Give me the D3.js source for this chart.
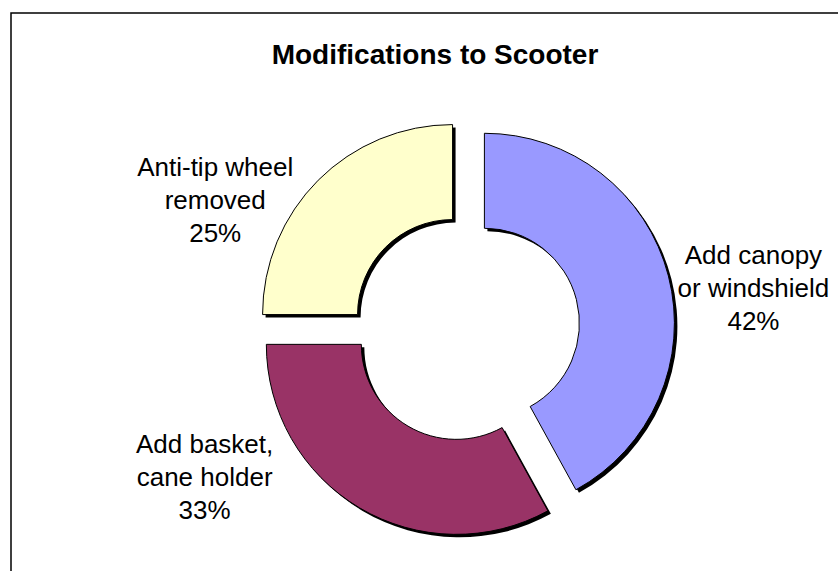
<!DOCTYPE html>
<html>
<head>
<meta charset="utf-8">
<script src="https://cdn.jsdelivr.net/npm/d3@7"></script>
<style>
  html, body { margin: 0; padding: 0; background: #fff; }
  svg { display: block; font-family: Arial, "Liberation Sans", sans-serif; }
</style>
</head>
<body>
<svg id="chart" width="838" height="571"></svg>
<script>
// data
var categories = ['Add canopy or windshield', 'Add basket, cane holder', 'Anti-tip wheel removed'];
var labelLines = [['Add canopy', 'or windshield'], ['Add basket,', 'cane holder'], ['Anti-tip wheel', 'removed']];
var values = [42, 33, 25];
var colors = ['#9999FF', '#993366', '#FFFFCC'];

// layout
var cx = 466, cy = 328;
var outerR = 190, innerR = 95;
var explode = 19;
// label offsets from the slice's outer midpoint (middle line baseline)
var labelOffsets = [[85, 21], [-155, -22], [-103, 29]];

var svg = d3.select('#chart');

// chart frame, runs past the right and bottom edges
svg.append('rect')
  .attr('x', 11).attr('y', 13)
  .attr('width', 900).attr('height', 700)
  .attr('fill', 'none')
  .attr('stroke', '#000')
  .attr('stroke-width', 1.5);

svg.append('text')
  .attr('x', 435).attr('y', 64)
  .attr('text-anchor', 'middle')
  .attr('font-size', 28)
  .attr('font-weight', 'bold')
  .text('Modifications to Scooter');

var pie = d3.pie().sort(null).value(function (d) { return d; });
var arcs = pie(values);

var arc = d3.arc().innerRadius(innerR).outerRadius(outerR);

function offsetFor(d) {
  var mid = (d.startAngle + d.endAngle) / 2;
  return [Math.sin(mid) * explode, -Math.cos(mid) * explode];
}

var g = svg.append('g').attr('transform', 'translate(' + cx + ',' + cy + ')');

// shadows first so they sit under every slice
g.selectAll('path.shadow')
  .data(arcs)
  .enter().append('path')
  .attr('class', 'shadow')
  .attr('d', arc)
  .attr('fill', '#000')
  .attr('transform', function (d) {
    var o = offsetFor(d);
    return 'translate(' + (o[0] + 3) + ',' + (o[1] + 3) + ')';
  });

g.selectAll('path.slice')
  .data(arcs)
  .enter().append('path')
  .attr('class', 'slice')
  .attr('d', arc)
  .attr('fill', function (d, i) { return colors[i]; })
  .attr('stroke', '#000')
  .attr('stroke-width', 1)
  .attr('transform', function (d) {
    var o = offsetFor(d);
    return 'translate(' + o[0] + ',' + o[1] + ')';
  });

// labels
var labels = g.selectAll('text.label')
  .data(arcs)
  .enter().append('text')
  .attr('class', 'label')
  .attr('text-anchor', 'middle')
  .attr('font-size', 26)
  .attr('fill', '#000')
  .attr('transform', function (d, i) {
    var mid = (d.startAngle + d.endAngle) / 2;
    var r = outerR + explode;
    var x = Math.sin(mid) * r + labelOffsets[i][0];
    var y = -Math.cos(mid) * r + labelOffsets[i][1];
    return 'translate(' + x + ',' + y + ')';
  });

labels.each(function (d, i) {
  var t = d3.select(this);
  var lines = labelLines[i].concat([Math.round(d.value / d3.sum(values) * 100) + '%']);
  lines.forEach(function (line, k) {
    t.append('tspan')
      .attr('x', 0)
      .attr('y', (k - 1) * 33)
      .text(line);
  });
});
</script>
</body>
</html>
